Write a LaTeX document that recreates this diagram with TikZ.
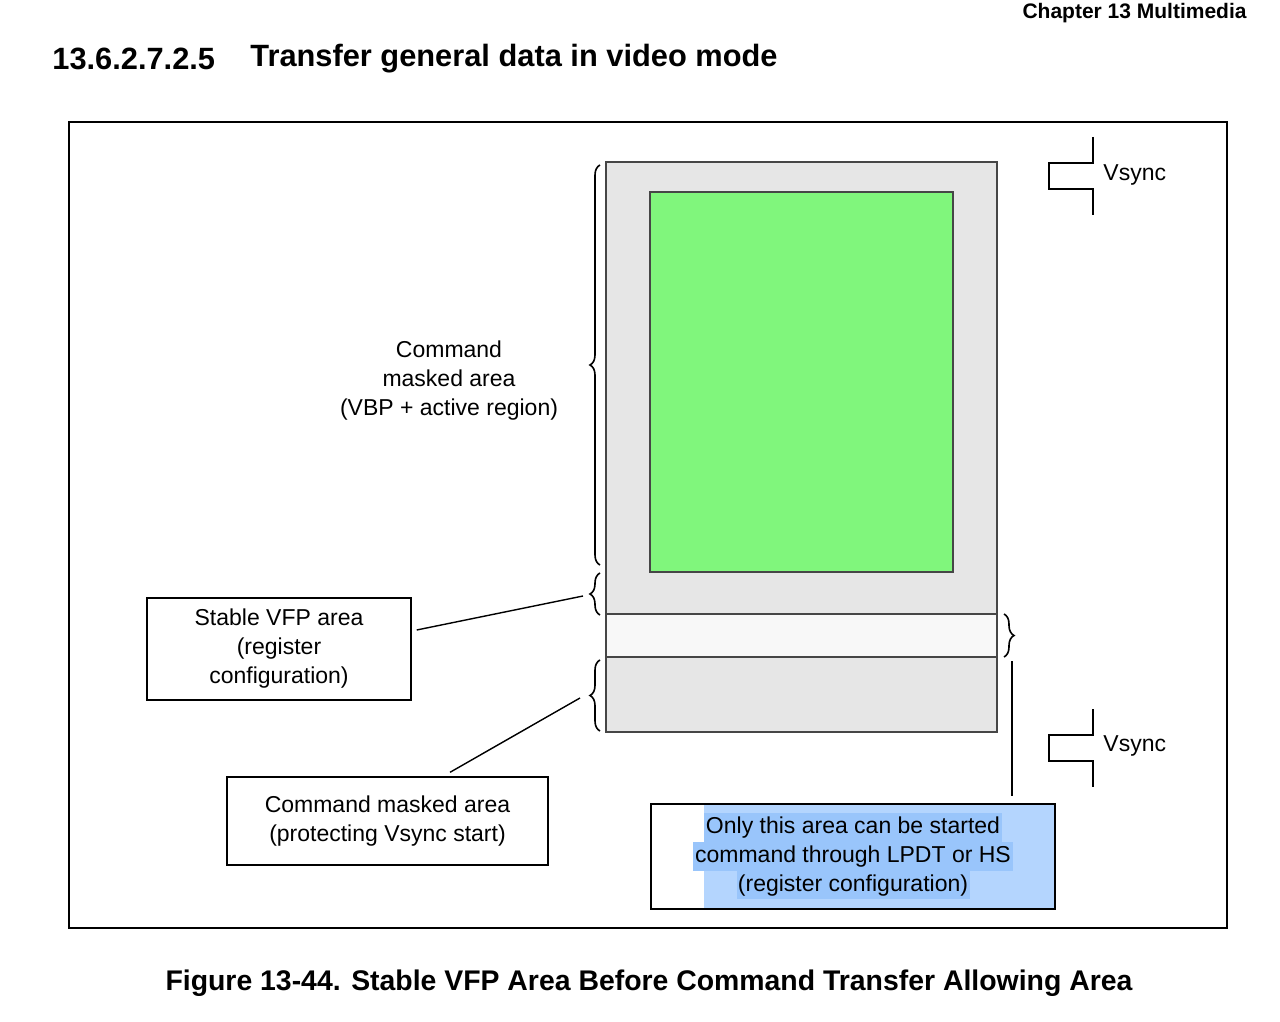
\documentclass[tikz,border=0pt]{standalone}
\usepackage{fontspec}
\setmainfont{Liberation Sans}
\usetikzlibrary{positioning,decorations.pathreplacing}
\definecolor{PanelClr}{RGB}{230,230,230}
\definecolor{ActiveClr}{RGB}{128,246,124}
\definecolor{StripClr}{RGB}{248,248,248}
\definecolor{SelLightClr}{RGB}{180,213,254}
\definecolor{SelDarkClr}{RGB}{153,197,251}
\definecolor{EdgeClr}{RGB}{70,70,70}

\begin{document}
\begin{tikzpicture}[x=0.5pt,y=-0.5pt,
  txt/.style={font=\fontsize{11.5}{14.5}\selectfont, align=center, inner sep=0pt},
  lbox/.style={draw, line width=0.7pt, txt},
  brc/.style={decorate, decoration={brace, amplitude=5pt, aspect=0.5}, line width=0.8pt},
  wire/.style={line width=0.7pt}]
\useasboundingbox (0,0) rectangle (1280,1022);

% Header and title
\node[anchor=east, font=\bfseries\fontsize{10.5}{12}\selectfont, inner sep=0pt] (chap) at (1247,13) {Chapter 13 Multimedia};
\node[anchor=west, font=\bfseries\fontsize{15.4}{18}\selectfont, inner sep=0pt] (secnum) at (52,59) {13.6.2.7.2.5};
\node[anchor=west, font=\bfseries\fontsize{15.4}{18}\selectfont, inner sep=0pt] (sectitle) at (250,59) {Transfer general data in video mode};

% Outer frame
\draw[line width=0.6pt] (69,122) rectangle (1227,928);

% Step 1. Frame areas
\filldraw[fill=PanelClr, draw=EdgeClr, line width=0.6pt] (606,162) rectangle (997,732);
\filldraw[fill=ActiveClr, draw=EdgeClr, line width=0.6pt] (650,192) rectangle (953,572);
\filldraw[fill=StripClr, draw=EdgeClr, line width=0.6pt] (606,614) rectangle (997,657);

% Step 2. Braces
\draw[brc] (600,565) -- (600,165);
\draw[brc] (600,615) -- (600,573);
\draw[brc] (600,731) -- (600,660);
\draw[brc] (1004,614) -- (1004,657);

\coordinate (vfpEnd) at (583,596);
\coordinate (maskEnd) at (580,698);
\coordinate (lpdtTop) at (1012,661);

% Step 3. Labels
\node[txt] (vbp) at (449,381) {Command\\masked area\\(VBP + active region)};
\node[lbox, minimum width=132pt, minimum height=51pt] (vfp) at (279,649)
  {Stable VFP area\\(register\\configuration)};
\node[lbox, minimum width=160.5pt, minimum height=44pt] (mask) at (387.5,821)
  {Command masked area\\(protecting Vsync start)};

% Step 4. Selected box
\fill[SelLightClr] (704,805) rectangle (1054,908);
\fill[SelDarkClr] (704,813) rectangle (1002,842);
\fill[SelDarkClr] (693,842) rectangle (1013,871);
\fill[SelDarkClr] (737,871) rectangle (970,899);
\node[lbox, minimum width=202pt, minimum height=52.5pt] (lpdt) at (853,856.5)
  {Only this area can be started\\command through LPDT or HS\\(register configuration)};

% Step 5. Connectors
\draw[wire] (vfp.east) ++(5,-19) -- (vfpEnd);
\draw[wire] (mask.north) ++(62.5,-4) -- (maskEnd);
\draw[wire] (lpdtTop) -- ++(0,135);

% Step 6. Vsync pulses
\draw[wire] (1093,137) -- (1093,163) -- (1049,163) -- (1049,189) -- (1093,189) -- (1093,215);
\node[txt, anchor=west] (vsTop) at (1103,175) {Vsync};
\draw[wire] (1093,709) -- (1093,735) -- (1049,735) -- (1049,761) -- (1093,761) -- (1093,787);
\node[txt, anchor=west] (vsBot) at (1103,746) {Vsync};

% Caption
\node[font=\bfseries\fontsize{14.2}{17}\selectfont] (caption) at (649,983)
  {Figure 13-44. Stable VFP Area Before Command Transfer Allowing Area};
\end{tikzpicture}
\end{document}
